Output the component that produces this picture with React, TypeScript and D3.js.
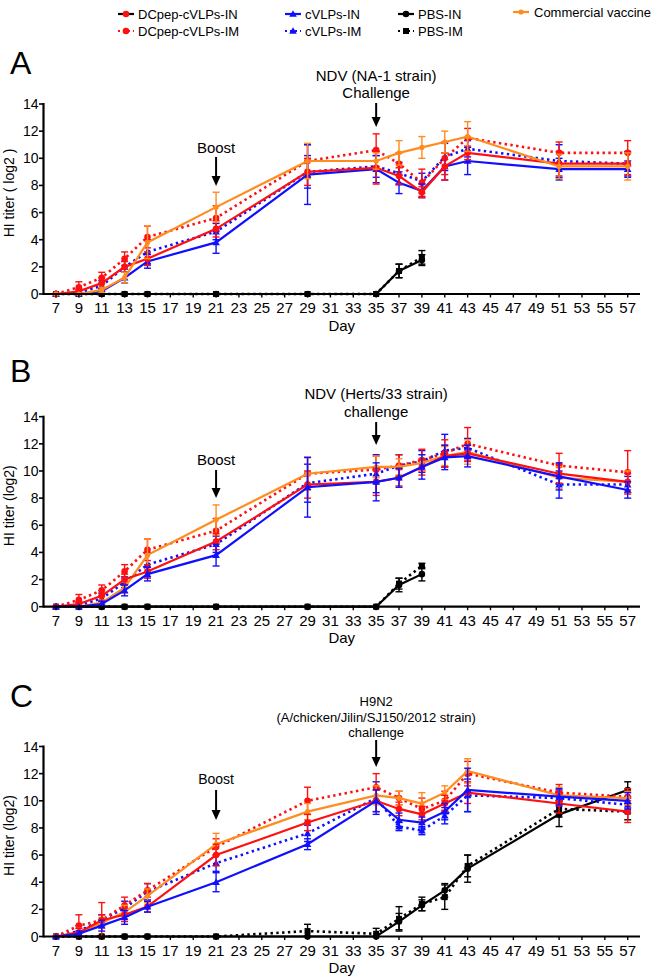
import React from 'react';
import * as d3 from 'd3';

const days = [7, 9, 11, 13, 15, 21, 29, 35, 37, 39, 41, 43, 51, 57];
const pbsShortDays = [7, 9, 11, 13, 15, 21, 29, 35, 37, 39];
const xTickDays = d3.range(7, 58, 2);
const yTickValues = [0, 2, 4, 6, 8, 10, 12, 14];

// Panel A (NDV NA-1)
const aDcIn = [0, 0.2, 0.8, 2.0, 2.6, 4.8, 9.0, 9.3, 8.7, 7.5, 9.4, 10.4, 9.6, 9.6];
const aDcInErr = [0, 0.2, 0.4, 0.4, 0.5, 0.6, 1.0, 1.2, 0.6, 0.4, 1.0, 0.5, 0.9, 0.8];
const aDcIm = [0, 0.5, 1.2, 2.6, 4.2, 5.6, 9.8, 10.6, 9.6, 8.2, 10.0, 11.5, 10.4, 10.4];
const aDcImErr = [0, 0.4, 0.4, 0.5, 0.8, 0.9, 1.2, 1.2, 0.8, 1.0, 1.2, 0.7, 0.8, 0.9];
const aCvIn = [0, 0, 0.2, 1.2, 2.4, 3.8, 8.8, 9.2, 8.2, 7.6, 9.4, 9.8, 9.2, 9.2];
const aCvInErr = [0, 0, 0.2, 0.4, 0.5, 0.8, 2.2, 1.0, 0.8, 0.5, 1.0, 1.0, 0.8, 0.6];
const aCvIm = [0, 0.1, 0.6, 2.0, 3.1, 4.6, 9.0, 9.4, 8.9, 8.3, 10.1, 10.7, 9.8, 9.6];
const aCvImErr = [0, 0.2, 0.4, 0.4, 0.9, 0.6, 1.2, 0.8, 0.8, 0.6, 1.0, 0.6, 1.2, 0.9];
const aCom = [0, 0, 0.3, 1.2, 3.8, 6.4, 9.8, 9.8, 10.4, 10.8, 11.2, 11.6, 9.4, 9.4];
const aComErr = [0, 0, 0.2, 0.4, 1.2, 1.1, 1.3, 0.6, 0.9, 0.8, 0.8, 1.1, 0.9, 1.0];
const aPbsIn = [0, 0, 0, 0, 0, 0, 0, 0, 1.7, 2.5];
const aPbsInErr = [0, 0, 0, 0, 0, 0, 0, 0, 0.5, 0.4];
const aPbsIm = [0, 0, 0, 0, 0, 0, 0, 0, 1.7, 2.7];
const aPbsImErr = [0, 0, 0, 0, 0, 0, 0, 0, 0.5, 0.5];

// Panel B (NDV Herts/33)
const bDcIn = [0, 0.2, 0.8, 2.0, 2.6, 4.8, 9.0, 9.2, 9.5, 10.3, 11.1, 11.3, 9.8, 9.2];
const bDcInErr = [0, 0.2, 0.4, 0.4, 0.5, 0.6, 1.0, 1.0, 0.6, 0.6, 0.8, 0.6, 0.7, 0.6];
const bDcIm = [0, 0.5, 1.2, 2.6, 4.2, 5.6, 9.8, 10.1, 10.4, 10.8, 11.3, 12.0, 10.4, 9.9];
const bDcImErr = [0, 0.4, 0.4, 0.5, 0.8, 0.9, 1.2, 1.0, 0.8, 0.8, 1.0, 1.2, 0.9, 1.6];
const bCvIn = [0, 0, 0.2, 1.2, 2.4, 3.8, 8.8, 9.2, 9.5, 10.3, 11.0, 11.1, 9.6, 8.6];
const bCvInErr = [0, 0, 0.2, 0.4, 0.5, 0.8, 2.2, 1.4, 0.7, 0.9, 0.9, 0.8, 1.0, 0.6];
const bCvIm = [0, 0.1, 0.6, 1.8, 3.1, 4.6, 9.1, 9.8, 10.4, 10.7, 11.5, 11.7, 9.0, 9.0];
const bCvImErr = [0, 0.2, 0.4, 0.4, 0.9, 0.6, 1.4, 1.4, 0.8, 0.8, 1.2, 0.7, 1.0, 0.6];
const bCom = [0, 0, 0.3, 1.4, 3.8, 6.4, 9.8, 10.3, 10.3, 10.6, 11.1, 11.4, 9.5, 9.2];
const bComErr = [0, 0, 0.2, 0.4, 1.2, 1.1, 1.2, 0.8, 0.6, 0.6, 0.7, 0.9, 0.8, 0.8];
const bPbsIn = [0, 0, 0, 0, 0, 0, 0, 0, 1.6, 2.4];
const bPbsInErr = [0, 0, 0, 0, 0, 0, 0, 0, 0.5, 0.5];
const bPbsIm = [0, 0, 0, 0, 0, 0, 0, 0, 1.7, 3.0];
const bPbsImErr = [0, 0, 0, 0, 0, 0, 0, 0, 0.4, 0.2];

// Panel C (H9N2)
const cDcIn = [0, 0.3, 1.2, 1.6, 2.2, 6.0, 8.4, 10.0, 9.4, 9.0, 9.8, 10.6, 9.8, 9.2];
const cDcInErr = [0, 0.3, 0.4, 0.5, 0.4, 0.8, 0.6, 0.8, 0.5, 0.6, 0.6, 0.8, 0.7, 0.8];
const cDcIm = [0, 0.8, 1.2, 2.3, 3.4, 6.6, 10.0, 11.0, 10.2, 9.4, 10.0, 12.0, 10.6, 10.3];
const cDcImErr = [0, 0.8, 1.3, 0.6, 0.5, 0.6, 1.0, 1.0, 0.5, 0.8, 0.7, 0.9, 0.6, 0.6];
const cCvIn = [0, 0.2, 0.8, 1.4, 2.2, 4.0, 6.8, 10.0, 8.6, 8.4, 9.2, 10.8, 10.3, 10.0];
const cCvInErr = [0, 0.2, 0.4, 0.5, 0.4, 0.7, 0.4, 0.8, 0.5, 0.4, 0.6, 1.6, 0.6, 0.6];
const cCvIm = [0, 0.4, 1.2, 2.1, 3.3, 5.4, 7.6, 10.2, 8.1, 7.8, 8.9, 10.4, 10.2, 9.7];
const cCvImErr = [0, 0.4, 0.4, 0.5, 0.6, 0.6, 0.6, 1.2, 0.3, 0.3, 0.6, 1.2, 0.6, 0.6];
const cCom = [0, 0.3, 1.0, 1.8, 3.0, 6.8, 9.2, 10.4, 10.2, 9.8, 10.6, 12.2, 10.4, 10.2];
const cComErr = [0, 0.3, 0.4, 0.5, 0.5, 0.8, 0.6, 0.7, 0.5, 0.8, 0.5, 0.9, 0.6, 0.5];
const cPbsIn = [0, 0, 0, 0, 0, 0, 0, 0, 1.1, 2.3, 3.4, 5.0, 9.0, 10.8];
const cPbsInErr = [0, 0, 0, 0, 0, 0, 0, 0, 0.6, 0.4, 0.5, 1.0, 0.9, 0.6];
const cPbsIm = [0, 0, 0, 0, 0, 0, 0.4, 0.2, 1.3, 2.4, 2.9, 5.2, 9.4, 9.2];
const cPbsImErr = [0, 0, 0, 0, 0, 0, 0.5, 0.4, 0.9, 0.5, 0.9, 0.8, 0.6, 0.6];

const legendLabels = ['DCpep-cVLPs-IN', 'DCpep-cVLPs-IM', 'cVLPs-IN', 'cVLPs-IM', 'PBS-IN', 'PBS-IM', 'Commercial vaccine'];
const panelLetters = ['A', 'B', 'C'];
const yAxisLabels = ['HI titer ( log2 )', 'HI titer (log2)', 'HI titer (log2)'];
const challengeTexts = [
  ['NDV (NA-1 strain)', 'Challenge'],
  ['NDV (Herts/33 strain)', 'challenge'],
  ['H9N2', '(A/chicken/Jilin/SJ150/2012 strain)', 'challenge'],
];
const boostDay = 21;
const challengeDay = 35;

const RED = '#ff1010';
const BLUE = '#1010ff';
const ORANGE = '#ff8c1e';
const BLACK = '#000000';
const FONT = 'Liberation Sans, Arial, Helvetica, sans-serif';

type Marker = 'circle' | 'triangle' | 'square' | 'dot';
type Series = { color: string; dashed: boolean; marker: Marker; d: number[]; v: number[]; e: number[] };

const style = [
  { color: RED, dashed: false, marker: 'circle' as Marker },
  { color: RED, dashed: true, marker: 'circle' as Marker },
  { color: BLUE, dashed: false, marker: 'triangle' as Marker },
  { color: BLUE, dashed: true, marker: 'triangle' as Marker },
  { color: BLACK, dashed: false, marker: 'circle' as Marker },
  { color: BLACK, dashed: true, marker: 'square' as Marker },
  { color: ORANGE, dashed: false, marker: 'dot' as Marker },
];

function mk(i: number, d: number[], v: number[], e: number[]): Series {
  return { ...style[i], d, v, e };
}

const panels = [
  {
    top: 104,
    series: [
      mk(5, pbsShortDays, aPbsIm, aPbsImErr),
      mk(4, pbsShortDays, aPbsIn, aPbsInErr),
      mk(3, days, aCvIm, aCvImErr),
      mk(1, days, aDcIm, aDcImErr),
      mk(2, days, aCvIn, aCvInErr),
      mk(0, days, aDcIn, aDcInErr),
      mk(6, days, aCom, aComErr),
    ],
    boost: { textY: 152.5, a0: 157, a1: 186, fs: 15 },
    chal: { ys: [80.5, 97.8], a0: 103, a1: 127, fs: 15 },
    letterY: 74,
  },
  {
    top: 416.7,
    series: [
      mk(5, pbsShortDays, bPbsIm, bPbsImErr),
      mk(4, pbsShortDays, bPbsIn, bPbsInErr),
      mk(3, days, bCvIm, bCvImErr),
      mk(1, days, bDcIm, bDcImErr),
      mk(6, days, bCom, bComErr),
      mk(0, days, bDcIn, bDcInErr),
      mk(2, days, bCvIn, bCvInErr),
    ],
    boost: { textY: 464.5, a0: 470, a1: 498, fs: 15 },
    chal: { ys: [398.5, 416.5], a0: 422, a1: 445, fs: 15 },
    letterY: 382,
  },
  {
    top: 746.5,
    series: [
      mk(5, days, cPbsIm, cPbsImErr),
      mk(4, days, cPbsIn, cPbsInErr),
      mk(3, days, cCvIm, cCvImErr),
      mk(1, days, cDcIm, cDcImErr),
      mk(6, days, cCom, cComErr),
      mk(0, days, cDcIn, cDcInErr),
      mk(2, days, cCvIn, cCvInErr),
    ],
    boost: { textY: 784, a0: 790, a1: 820, fs: 14 },
    chal: { ys: [705.7, 721.7, 736.7], a0: 740, a1: 767, fs: 13 },
    letterY: 707,
  },
];

const x = d3.scaleLinear().domain([7, 57]).range([56, 627.7]);
const AX_LEFT = 43.5;
const AX_RIGHT = 640;
const PH = 190;

function MarkerShape({ m, cx, cy, color }: { m: Marker; cx: number; cy: number; color: string }) {
  if (m === 'circle') return <circle cx={cx} cy={cy} r={3.3} fill={color} />;
  if (m === 'dot') return <circle cx={cx} cy={cy} r={2.6} fill={color} />;
  if (m === 'square') return <rect x={cx - 3} y={cy - 3} width={6} height={6} fill={color} />;
  const s = 3.8;
  return <path d={`M${cx},${cy - s}L${cx + s},${cy + s * 0.75}L${cx - s},${cy + s * 0.75}Z`} fill={color} />;
}

function Arrow({ cx, y0, y1 }: { cx: number; y0: number; y1: number }) {
  return (
    <g>
      <line x1={cx} x2={cx} y1={y0} y2={y1 - 6} stroke={BLACK} strokeWidth={2} />
      <path d={`M${cx - 4.5},${y1 - 10}L${cx + 4.5},${y1 - 10}L${cx},${y1}Z`} fill={BLACK} />
    </g>
  );
}

function Panel({ p, idx }: { p: (typeof panels)[number]; idx: number }) {
  const y = d3.scaleLinear().domain([0, 14]).range([p.top + PH, p.top]);
  const y0 = y(0);
  const line = d3
    .line<[number, number]>()
    .x((d) => x(d[0]))
    .y((d) => y(d[1]));
  return (
    <g>
      <text x={10} y={p.letterY} fontSize={32} fontFamily={FONT}>
        {panelLetters[idx]}
      </text>
      {p.series.map((s, i) => {
        const pts = s.d.map((d, j) => [d, s.v[j]] as [number, number]);
        return (
          <g key={i}>
            <path
              d={line(pts) || ''}
              fill="none"
              stroke={s.color}
              strokeWidth={s.dashed ? 2.6 : 2.2}
              strokeDasharray={s.dashed ? '2.4 3.4' : undefined}
            />
            {s.d.map((d, j) =>
              s.e[j] > 0 ? (
                <g key={'e' + j} stroke={s.color} strokeWidth={1.4}>
                  <line x1={x(d)} x2={x(d)} y1={y(Math.max(0, s.v[j] - s.e[j]))} y2={y(s.v[j] + s.e[j])} />
                  <line x1={x(d) - 3.5} x2={x(d) + 3.5} y1={y(s.v[j] + s.e[j])} y2={y(s.v[j] + s.e[j])} />
                  <line x1={x(d) - 3.5} x2={x(d) + 3.5} y1={y(Math.max(0, s.v[j] - s.e[j]))} y2={y(Math.max(0, s.v[j] - s.e[j]))} />
                </g>
              ) : null
            )}
            {s.d.map((d, j) => (
              <MarkerShape key={'m' + j} m={s.marker} cx={x(d)} cy={y(s.v[j])} color={s.color} />
            ))}
          </g>
        );
      })}
      <line x1={AX_LEFT} x2={AX_RIGHT} y1={y0} y2={y0} stroke={BLACK} strokeWidth={2.2} />
      <line x1={AX_LEFT} x2={AX_LEFT} y1={y(14) - 1} y2={y0 + 1} stroke={BLACK} strokeWidth={2.2} />
      {yTickValues.map((t) => (
        <g key={'y' + t}>
          <line x1={AX_LEFT - 4.5} x2={AX_LEFT} y1={y(t)} y2={y(t)} stroke={BLACK} strokeWidth={1.6} />
          <text x={38.5} y={y(t) + 5} fontSize={14} textAnchor="end" fontFamily={FONT}>
            {t}
          </text>
        </g>
      ))}
      {xTickDays.map((t) => (
        <g key={'x' + t}>
          <line x1={x(t)} x2={x(t)} y1={y0} y2={y0 + 3.5} stroke={BLACK} strokeWidth={1.4} />
          <text x={x(t)} y={y0 + 19} fontSize={15} textAnchor="middle" fontFamily={FONT}>
            {t}
          </text>
        </g>
      ))}
      <text x={(AX_LEFT + AX_RIGHT) / 2} y={y0 + 36.5} fontSize={15} textAnchor="middle" fontFamily={FONT}>
        Day
      </text>
      <text
        transform={`translate(13.5,${p.top + PH / 2 - 6}) rotate(-90)`}
        fontSize={14}
        textAnchor="middle"
        fontFamily={FONT}
      >
        {yAxisLabels[idx]}
      </text>
      <text x={x(boostDay)} y={p.boost.textY} fontSize={p.boost.fs} textAnchor="middle" fontFamily={FONT}>
        Boost
      </text>
      <Arrow cx={x(boostDay)} y0={p.boost.a0} y1={p.boost.a1} />
      {challengeTexts[idx].map((t, k) => (
        <text key={k} x={x(challengeDay)} y={p.chal.ys[k]} fontSize={p.chal.fs} textAnchor="middle" fontFamily={FONT}>
          {t}
        </text>
      ))}
      <Arrow cx={x(challengeDay)} y0={p.chal.a0} y1={p.chal.a1} />
    </g>
  );
}

const legendPos = [
  { lx: 118, tx: 138, y: 14 },
  { lx: 118, tx: 138, y: 31 },
  { lx: 285, tx: 305, y: 14 },
  { lx: 285, tx: 305, y: 31 },
  { lx: 398, tx: 418, y: 14 },
  { lx: 398, tx: 418, y: 31 },
  { lx: 513, tx: 534, y: 12 },
];

function Legend() {
  return (
    <g>
      {legendLabels.map((lab, i) => {
        const st = style[i];
        const p = legendPos[i];
        return (
          <g key={lab}>
            <line
              x1={p.lx}
              x2={p.lx + 16}
              y1={p.y}
              y2={p.y}
              stroke={i === 0 ? BLACK : st.color}
              strokeWidth={2.2}
              strokeDasharray={st.dashed ? '2 3' : undefined}
            />
            <MarkerShape m={st.marker} cx={p.lx + 8} cy={p.y} color={st.color} />
            <text x={p.tx} y={p.y + 4.7} fontSize={13} fontFamily={FONT}>
              {lab}
            </text>
          </g>
        );
      })}
    </g>
  );
}

export default function App() {
  return (
    <div style={{ position: 'absolute', left: 0, top: 0 }}>
      <svg width={660} height={980} viewBox="0 0 660 980" style={{ display: 'block', background: '#fff' }}>
        <Legend />
        {panels.map((p, i) => (
          <Panel key={i} p={p} idx={i} />
        ))}
      </svg>
    </div>
  );
}
